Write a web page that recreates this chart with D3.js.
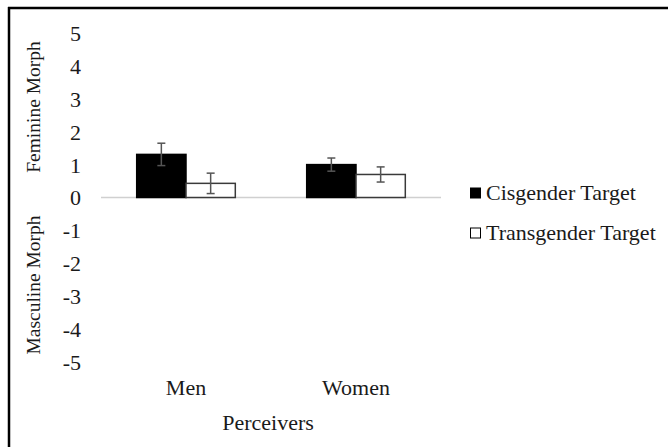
<!DOCTYPE html>
<html>
<head>
<meta charset="utf-8">
<script src="https://cdn.jsdelivr.net/npm/d3@7"></script>
<style>
html,body{margin:0;padding:0;background:#fff;}
svg{display:block;}
text{font-family:"Liberation Serif","Times New Roman",serif;fill:#1a1a1a;}
</style>
</head>
<body>
<svg id="chart" width="668" height="447"></svg>
<script>
const categories = ["Men", "Women"];
const seriesNames = ["Cisgender Target", "Transgender Target"];
const cisValues = [1.31, 1.0];
const transValues = [0.43, 0.70];
const cisErrors = [0.34, 0.20];
const transErrors = [0.31, 0.23];
const yTicks = [5, 4, 3, 2, 1, 0, -1, -2, -3, -4, -5];

const FONT = "Liberation Serif, Times New Roman, serif";
const svg = d3.select("#chart");

// frame (top & left only, as in reference)
svg.append("line").attr("x1", 8).attr("x2", 668).attr("y1", 8).attr("y2", 8)
  .attr("stroke", "#000").attr("stroke-width", 2.5);
svg.append("line").attr("x1", 9).attr("x2", 9).attr("y1", 7).attr("y2", 447)
  .attr("stroke", "#000").attr("stroke-width", 2.5);

const y = d3.scaleLinear().domain([-5, 5]).range([362, 33]);
const x0 = d3.scaleBand().domain(categories).range([101, 441]).paddingInner(0.42).paddingOuter(0.21);
const x1 = d3.scaleBand().domain(seriesNames).range([0, x0.bandwidth()]);

// y tick labels
const yAxis = d3.axisLeft(y).tickValues(yTicks).tickSize(0).tickPadding(0)
  .tickFormat(d => d3.format("d")(d).replace("−", "-"));
const gy = svg.append("g").attr("transform", "translate(81,0)").call(yAxis);
gy.attr("font-family", FONT);
gy.select(".domain").remove();
gy.selectAll("text").attr("font-size", 22).attr("fill", "#1a1a1a").attr("dy", "0.34em");

// baseline
svg.append("line").attr("x1", 101).attr("x2", 441).attr("y1", y(0)).attr("y2", y(0))
  .attr("stroke", "#d0d0d0").attr("stroke-width", 1.5);

const data = categories.map((c, i) => ({
  cat: c,
  vals: [
    {s: seriesNames[0], v: cisValues[i], e: cisErrors[i]},
    {s: seriesNames[1], v: transValues[i], e: transErrors[i]}
  ]
}));

const groups = svg.selectAll("g.grp").data(data).enter().append("g")
  .attr("class", "grp").attr("transform", d => `translate(${x0(d.cat)},0)`);

groups.selectAll("rect.bar").data(d => d.vals).enter().append("rect")
  .attr("class", "bar")
  .attr("x", d => x1(d.s))
  .attr("width", x1.bandwidth())
  .attr("y", d => y(Math.max(0, d.v)))
  .attr("height", d => Math.abs(y(d.v) - y(0)))
  .attr("fill", d => d.s === seriesNames[0] ? "#000" : "#fff")
  .attr("stroke", d => d.s === seriesNames[0] ? "#000" : "#3a3a3a")
  .attr("stroke-width", 1.5);

// error bars
const capW = 4;
const eb = groups.selectAll("g.err").data(d => d.vals).enter().append("g").attr("class", "err")
  .attr("stroke", "#555").attr("stroke-width", 1.5);
eb.append("line")
  .attr("x1", d => x1(d.s) + x1.bandwidth() / 2).attr("x2", d => x1(d.s) + x1.bandwidth() / 2)
  .attr("y1", d => y(d.v + d.e)).attr("y2", d => y(d.v - d.e));
eb.append("line")
  .attr("x1", d => x1(d.s) + x1.bandwidth() / 2 - capW).attr("x2", d => x1(d.s) + x1.bandwidth() / 2 + capW)
  .attr("y1", d => y(d.v + d.e)).attr("y2", d => y(d.v + d.e));
eb.append("line")
  .attr("x1", d => x1(d.s) + x1.bandwidth() / 2 - capW).attr("x2", d => x1(d.s) + x1.bandwidth() / 2 + capW)
  .attr("y1", d => y(d.v - d.e)).attr("y2", d => y(d.v - d.e));

// category labels
const xAxis = d3.axisBottom(x0).tickSize(0).tickPadding(0);
const gx = svg.append("g").attr("transform", "translate(0,388)").call(xAxis);
gx.attr("font-family", FONT);
gx.select(".domain").remove();
gx.selectAll("text").attr("font-size", 22).attr("fill", "#1a1a1a").attr("dy", "0.34em");

// x title
svg.append("text").attr("x", 268).attr("y", 423).attr("dy", "0.34em").attr("text-anchor", "middle")
  .attr("font-family", FONT).attr("font-size", 22).text("Perceivers");

// y titles
svg.append("text").attr("transform", "translate(33,107) rotate(-90)").attr("dy", "0.34em")
  .attr("text-anchor", "middle").attr("font-family", FONT).attr("font-size", 19.5).text("Feminine Morph");
svg.append("text").attr("transform", "translate(33,285) rotate(-90)").attr("dy", "0.34em")
  .attr("text-anchor", "middle").attr("font-family", FONT).attr("font-size", 19.5).text("Masculine Morph");

// legend
const legendY = [193, 233];
const lg = svg.selectAll("g.leg").data(seriesNames).enter().append("g").attr("class", "leg")
  .attr("transform", (d, i) => `translate(470,${legendY[i]})`);
lg.append("rect").attr("x", 0.5).attr("y", -5).attr("width", 10).attr("height", 10)
  .attr("fill", (d, i) => i === 0 ? "#000" : "#fff").attr("stroke", "#000").attr("stroke-width", 1);
lg.append("text").attr("x", 16).attr("dy", "0.34em").attr("font-family", FONT).attr("font-size", 22).text(d => d);
</script>
</body>
</html>
